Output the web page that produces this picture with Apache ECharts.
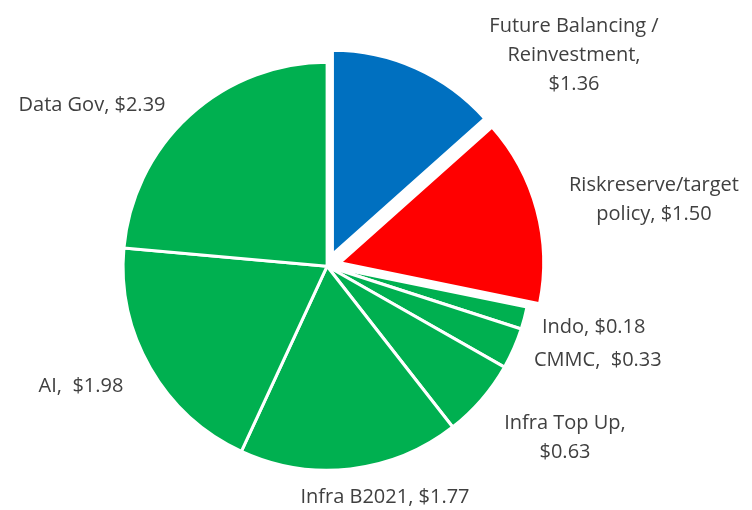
<!DOCTYPE html>
<html>
<head>
<meta charset="utf-8">
<script src="https://cdn.jsdelivr.net/npm/echarts@6/dist/echarts.min.js"></script>
<style>
  html, body { margin: 0; padding: 0; background: #fff; }
  #chart { width: 752px; height: 510px; }
</style>
</head>
<body>
<div id="chart"></div>
<script>
// slice names (with the line breaks used in the labels)
var names = ['Future Balancing /\nReinvestment', 'Riskreserve/target\npolicy', 'Indo', 'CMMC',
  'Infra Top Up', 'Infra B2021', 'AI', 'Data Gov'];
// values in $
var values = [1.36, 1.50, 0.18, 0.33, 0.63, 1.77, 1.98, 2.39];
// what goes between name and value in each label
var seps = [',\n', ', ', ', ', ',  ', ',\n', ', ', ',  ', ', '];
var colors = ['#0070C0', '#FF0000', '#00B050', '#00B050', '#00B050', '#00B050', '#00B050', '#00B050'];
// pulled-out slices
var exploded = [true, true, false, false, false, false, false, false];

// where each label sits: [x, y, align]
var labelPos = [
  [574, 55, 'center'],
  [654, 200, 'center'],
  [542, 327, 'left'],
  [534, 360, 'left'],
  [565, 438, 'center'],
  [385, 497, 'center'],
  [81, 386, 'center'],
  [92, 105, 'center']
];

var chart = echarts.init(document.getElementById('chart'));

var center = ['43.5%', '52.2%'];
var radius = 204;

// visible slices, some pulled out
var pieData = values.map(function (v, i) {
  return {
    name: names[i],
    value: v,
    selected: exploded[i],
    itemStyle: { color: colors[i] }
  };
});

// same pie again, invisible, only to carry the labels
var labelData = values.map(function (v, i) {
  return { name: names[i], value: v };
});

chart.setOption({
  animation: false,
  series: [{
    type: 'pie',
    center: center,
    radius: radius,
    startAngle: 90,
    clockwise: true,
    selectedMode: 'multiple',
    selectedOffset: 13,
    silent: true,
    itemStyle: { borderColor: '#fff', borderWidth: 3 },
    emphasis: { disabled: true },
    label: { show: false },
    labelLine: { show: false },
    data: pieData
  }, {
    type: 'pie',
    center: center,
    radius: radius,
    startAngle: 90,
    clockwise: true,
    silent: true,
    avoidLabelOverlap: false,
    itemStyle: { color: 'rgba(0,0,0,0)', borderWidth: 0 },
    emphasis: { disabled: true },
    label: {
      show: true,
      position: 'outside',
      color: '#404040',
      fontFamily: 'Open Sans',
      fontSize: 20,
      lineHeight: 29,
      align: 'center',
      formatter: function (p) {
        return p.name + seps[p.dataIndex] + '$' + p.value.toFixed(2);
      }
    },
    labelLine: { show: false },
    labelLayout: function (p) {
      var pos = labelPos[p.dataIndex];
      return { x: pos[0], y: pos[1], align: pos[2], verticalAlign: 'middle' };
    },
    data: labelData
  }]
});
</script>
</body>
</html>
